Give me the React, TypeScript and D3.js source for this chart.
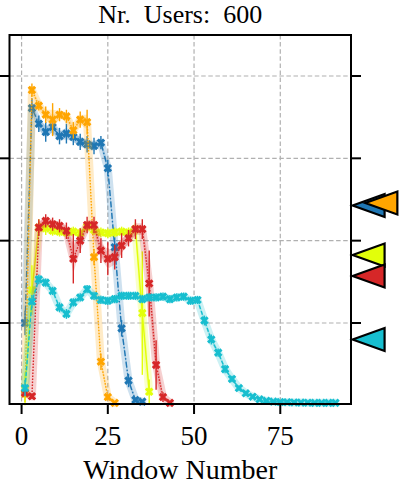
import React from "react";
import * as d3 from "d3";

// ---------------- data ----------------
const windows = [1, 3, 5, 7, 9, 11, 13, 15, 17, 19, 21, 23, 25, 27, 29, 31, 33, 35, 37, 39, 41, 43, 45, 47, 49, 51, 53, 55, 57, 59, 61, 63, 65, 67, 69, 71, 73, 75, 77, 79, 81, 83, 85, 87, 89, 91];

const blueVals = [1.0, 3.61, 3.42, 3.32, 3.38, 3.27, 3.30, 3.26, 3.20, 3.17, 3.15, 3.19, 2.88, 1.92, 0.935, 0.30, 0.065, 0.045];
const blueErr = [0.15, 0.12, 0.1, 0.12, 0.1, 0.1, 0.12, 0.1, 0.1, 0.1, 0.1, 0.08, 0.1, 0.12, 0.1, 0.08, 0.03, 0.02];

const orangeVals = [0.14, 3.83, 3.64, 3.53, 3.47, 3.53, 3.51, 3.34, 3.47, 3.44, 1.80, 0.53, 0.10, 0.03];
const orangeErr = [0.1, 0.08, 0.06, 0.1, 0.2, 0.08, 0.08, 0.1, 0.1, 0.15, 0.1, 0.1, 0.04, 0.02];

const yellowVals = [0.2, 1.40, 2.16, 2.15, 2.12, 2.11, 2.10, 2.11, 2.09, 2.17, 2.13, 2.10, 2.09, 2.10, 2.11, 2.10, 2.14, 1.12, 0.165];
const yellowErr = [0.2, 0.3, 0.1, 0.08, 0.06, 0.06, 0.06, 0.06, 0.06, 0.06, 0.06, 0.06, 0.06, 0.06, 0.06, 0.06, 0.08, 0.75, 0.15];

const redVals = [0.15, 0.11, 2.16, 2.24, 2.20, 2.18, 2.12, 1.78, 2.00, 2.19, 2.19, 1.88, 1.78, 1.80, 1.94, 2.03, 2.14, 2.14, 1.48, 0.49, 0.10, 0.03];
const redErr = [0.03, 0.03, 0.1, 0.08, 0.08, 0.08, 0.1, 0.3, 0.15, 0.1, 0.1, 0.15, 0.2, 0.15, 0.15, 0.1, 0.12, 0.12, 0.4, 0.3, 0.06, 0.02];

const cyanVals = [0.21, 1.26, 1.53, 1.49, 1.39, 1.19, 1.11, 1.25, 1.31, 1.41, 1.33, 1.28, 1.27, 1.29, 1.33, 1.33, 1.33, 1.29, 1.31, 1.31, 1.32, 1.29, 1.31, 1.32, 1.27, 1.28, 1.03, 0.80, 0.64, 0.44, 0.32, 0.21, 0.146, 0.105, 0.073, 0.055, 0.045, 0.04, 0.038, 0.035, 0.033, 0.032, 0.03, 0.03, 0.03, 0.03];
const cyanErr = [0.1, 0.08, 0.06, 0.05, 0.05, 0.06, 0.06, 0.05, 0.05, 0.05, 0.05, 0.05, 0.05, 0.05, 0.05, 0.05, 0.05, 0.05, 0.05, 0.05, 0.05, 0.05, 0.05, 0.05, 0.05, 0.05, 0.06, 0.06, 0.05, 0.05, 0.04, 0.03, 0.03, 0.02, 0.02, 0.02, 0.02, 0.02, 0.02, 0.02, 0.02, 0.02, 0.02, 0.02, 0.02, 0.02];

const seriesColors = ["#1f77b4", "#ffa500", "#e2ff0a", "#d62728", "#17becf"];
const seriesDash = ["6,2,1.5,2", "1.5,1.5", "none", "1.5,1.5", "4,2"];

// mean markers on the right (value, x position in window units)
const meanVals = [2.427, 2.457, 1.826, 1.571, 0.799];
const meanX = [100.6, 104.3, 100.6, 100.6, 100.6];

const xTicks = [0, 25, 50, 75];
const yTicks = [1, 2, 3, 4];
const title = "Nr.  Users:  600";
const xLabel = "Window Number";

// ---------------- layout ----------------
const W = 400, H = 485;
const L = 9.5, R = 351, T = 35, B = 404;

export default function App() {
  const x = d3.scaleLinear().domain([-3.5, 95.5]).range([L, R]);
  const y = d3.scaleLinear().domain([0.016, 4.498]).range([B, T]);

  const all = [
    { vals: blueVals, err: blueErr },
    { vals: orangeVals, err: orangeErr },
    { vals: yellowVals, err: yellowErr },
    { vals: redVals, err: redErr },
    { vals: cyanVals, err: cyanErr },
  ].map((s, i) => ({
    ...s,
    color: seriesColors[i],
    dash: seriesDash[i],
    pts: s.vals.map((v, j) => ({ n: windows[j], v, e: s.err[j] })),
  }));

  const line = d3.line<any>().x((d) => x(d.n)).y((d) => y(d.v));
  const area = d3
    .area<any>()
    .x((d) => x(d.n))
    .y0((d) => y(d.v - d.e * 0.6))
    .y1((d) => y(d.v + d.e * 0.6));
  const marker = d3.symbol().type(d3.symbolCross).size(46)();

  const font = "'Liberation Serif', 'Times New Roman', serif";

  return (
    <svg width={W} height={H} style={{ position: "absolute", left: 0, top: 0, background: "#fff" }}>
      {/* grid */}
      {xTicks.map((t) => (
        <line key={"gx" + t} x1={x(t)} x2={x(t)} y1={T} y2={B} stroke="#b0b0b0" strokeWidth={1.2} strokeDasharray="4.5,2.6" />
      ))}
      {yTicks.map((t) => (
        <line key={"gy" + t} x1={L} x2={R} y1={y(t)} y2={y(t)} stroke="#b0b0b0" strokeWidth={1.2} strokeDasharray="4.5,2.6" />
      ))}

      {/* series */}
      {all.map((s, i) => (
        <g key={"s" + i}>
          <path d={area(s.pts) || ""} fill={s.color} opacity={0.22} />
          <path d={line(s.pts) || ""} fill="none" stroke={s.color} strokeWidth={8} strokeOpacity={0.22} strokeLinejoin="round" strokeLinecap="round" />
          {s.pts.map((p, j) => (
            <line key={"e" + j} x1={x(p.n)} x2={x(p.n)} y1={y(p.v - p.e)} y2={y(p.v + p.e)} stroke={s.color} strokeWidth={1.4} />
          ))}
          <path d={line(s.pts) || ""} fill="none" stroke={s.color} strokeWidth={1.4} strokeDasharray={s.dash} />
          {s.pts.map((p, j) => (
            <path key={"m" + j} d={marker || ""} transform={`translate(${x(p.n)},${y(p.v)}) rotate(45)`} fill={s.color} />
          ))}
        </g>
      ))}

      {/* frame */}
      <rect x={L} y={T} width={R - L} height={B - T} fill="none" stroke="#000" strokeWidth={2} />

      {/* ticks */}
      {yTicks.map((t) => (
        <g key={"ty" + t}>
          <line x1={L - 10} x2={L} y1={y(t)} y2={y(t)} stroke="#000" strokeWidth={2} />
          <line x1={R} x2={R + 10} y1={y(t)} y2={y(t)} stroke="#000" strokeWidth={2} />
        </g>
      ))}
      {xTicks.map((t) => (
        <g key={"tx" + t}>
          <line x1={x(t)} x2={x(t)} y1={B} y2={B + 10} stroke="#000" strokeWidth={2} />
          <text x={x(t)} y={445} textAnchor="middle" fontFamily={font} fontSize={27}>
            {t}
          </text>
        </g>
      ))}

      {/* mean triangles */}
      {meanVals.map((v, i) => {
        const cx = x(meanX[i]);
        const cy = y(v);
        const pts = [
          [cx - 16, cy],
          [cx + 16, cy - 11.5],
          [cx + 16, cy + 11.5],
        ];
        return (
          <polygon
            key={"tri" + i}
            points={pts.map((p) => p.join(",")).join(" ")}
            fill={seriesColors[i]}
            stroke="#000"
            strokeWidth={2.2}
            strokeLinejoin="miter"
          />
        );
      })}

      {/* labels */}
      <text x={(L + R) / 2} y={23} textAnchor="middle" fontFamily={font} fontSize={26} style={{ whiteSpace: "pre" }}>
        {title}
      </text>
      <text x={(L + R) / 2} y={479} textAnchor="middle" fontFamily={font} fontSize={28}>
        {xLabel}
      </text>
    </svg>
  );
}
